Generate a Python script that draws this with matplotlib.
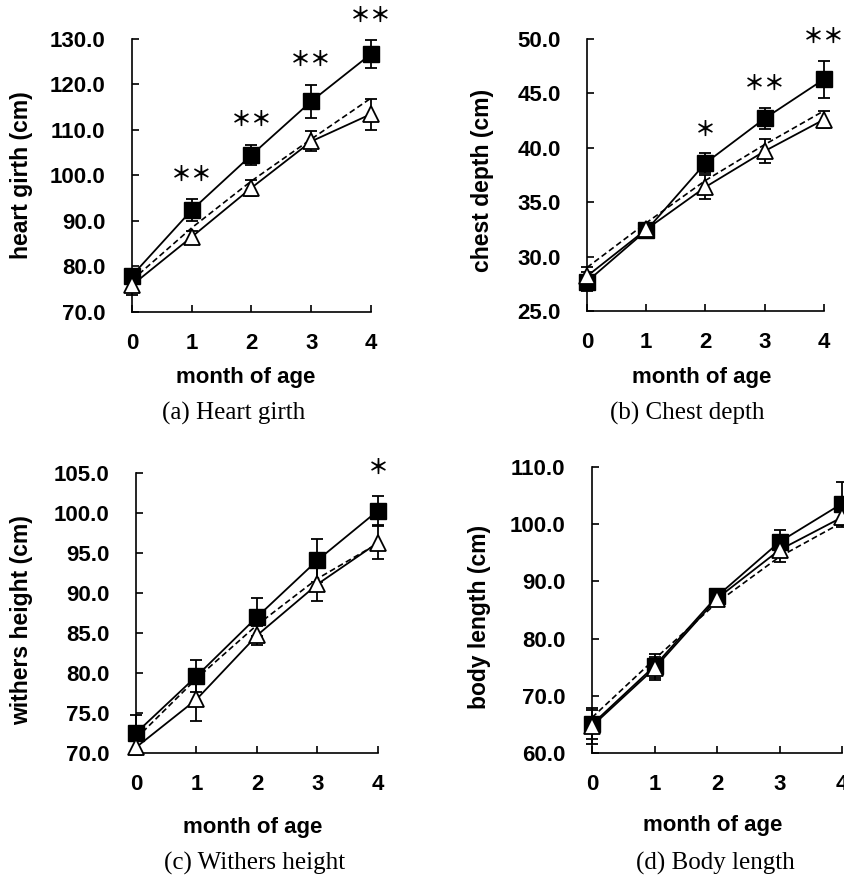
import numpy as np
import matplotlib
matplotlib.use("Agg")
import matplotlib.pyplot as plt

months = [0, 1, 2, 3, 4]

# (a) heart girth
hg_sq = [78.0, 92.4, 104.5, 116.3, 126.7]
hg_sq_err = [1.5, 2.4, 2.3, 3.6, 3.0]
hg_tri = [75.9, 86.5, 97.3, 107.5, 113.5]
hg_tri_err = [2.2, 1.2, 1.7, 2.2, 3.4]
hg_ref = [77.0, 88.5, 98.8, 108.0, 117.0]
hg_stars = ["", "＊＊", "＊＊", "＊＊", "＊＊"]

# (b) chest depth
cd_sq = [27.7, 32.4, 38.6, 42.7, 46.3]
cd_sq_err = [0.9, 0.4, 0.9, 1.0, 1.7]
cd_tri = [28.2, 32.5, 36.4, 39.7, 42.6]
cd_tri_err = [0.8, 0.4, 1.1, 1.1, 0.8]
cd_ref = [29.0, 33.1, 37.0, 40.3, 43.4]
cd_stars = ["", "", "＊", "＊＊", "＊＊"]

# (c) withers height
wh_sq = [72.5, 79.6, 87.0, 94.1, 100.3]
wh_sq_err = [2.2, 2.0, 2.4, 2.7, 1.8]
wh_tri = [70.7, 76.7, 84.7, 91.1, 96.3]
wh_tri_err = [1.0, 2.7, 1.2, 2.1, 2.1]
wh_ref = [71.8, 79.3, 86.0, 91.8, 96.2]
wh_stars = ["", "", "", "", "＊"]

# (d) body length
bl_sq = [65.0, 75.2, 87.4, 96.9, 103.6]
bl_sq_err = [2.6, 2.1, 0.8, 2.1, 3.8]
bl_tri = [64.7, 74.8, 87.0, 95.5, 101.2]
bl_tri_err = [3.2, 2.0, 0.8, 2.1, 1.7]
bl_ref = [66.2, 76.4, 86.3, 94.3, 100.3]
bl_stars = ["", "", "", "", ""]

W, H = 845, 877
fig = plt.figure(figsize=(W / 100, H / 100), dpi=100)


def px_axes(l, t, r, b):
    return fig.add_axes([l / W, 1 - b / H, (r - l) / W, (b - t) / H])


def ftext(x, y, s, **kw):
    fig.text(x / W, 1 - y / H, s, ha="center", va="center", **kw)


panels = [
    dict(box=(132, 39, 371, 312), sq=hg_sq, sqe=hg_sq_err, tri=hg_tri, trie=hg_tri_err,
         ref=hg_ref, stars=hg_stars, yt=np.arange(70, 131, 10), ylabel="heart girth (cm)",
         caption="(a) Heart girth", ylab_xy=(22, 175), xlab_xy=(246, 377), cap_xy=(234, 413),
         star_off=5.5),
    dict(box=(587, 39, 824, 311), sq=cd_sq, sqe=cd_sq_err, tri=cd_tri, trie=cd_tri_err,
         ref=cd_ref, stars=cd_stars, yt=np.arange(25, 51, 5), ylabel="chest depth (cm)",
         caption="(b) Chest depth", ylab_xy=(483, 180), xlab_xy=(702, 377), cap_xy=(687, 413),
         star_off=2.2),
    dict(box=(136, 473, 378, 753), sq=wh_sq, sqe=wh_sq_err, tri=wh_tri, trie=wh_tri_err,
         ref=wh_ref, stars=wh_stars, yt=np.arange(70, 106, 5), ylabel="withers height (cm)",
         caption="(c) Withers height", ylab_xy=(22, 620), xlab_xy=(253, 827), cap_xy=(255, 863),
         star_off=3.6),
    dict(box=(592, 467, 842, 753), sq=bl_sq, sqe=bl_sq_err, tri=bl_tri, trie=bl_tri_err,
         ref=bl_ref, stars=bl_stars, yt=np.arange(60, 111, 10), ylabel="body length (cm)",
         caption="(d) Body length", ylab_xy=(480, 617), xlab_xy=(713, 825), cap_xy=(715, 863),
         star_off=5.0),
]

for p in panels:
    ax = px_axes(*p["box"])
    ax.set_xlim(0, 4)
    ax.set_ylim(p["yt"][0], p["yt"][-1])

    ax.plot(months, p["ref"], color="black", lw=1.2, ls=(0, (3.5, 2)), zorder=2, clip_on=False)
    ax.errorbar(months, p["sq"], yerr=p["sqe"], color="black", lw=1.3, marker="s", ms=11,
                mfc="black", mec="black", capsize=4, capthick=1.3, elinewidth=1.3,
                zorder=3, clip_on=False)
    ax.errorbar(months, p["tri"], yerr=p["trie"], color="black", lw=1.3, marker="^", ms=11,
                mfc="white", mec="black", mew=1.3, capsize=4, capthick=1.3, elinewidth=1.3,
                zorder=4, clip_on=False)

    for x, y, e, s in zip(months, p["sq"], p["sqe"], p["stars"]):
        if s:
            ax.text(x, y + e + p["star_off"], s, ha="center", va="center", fontsize=15,
                    fontweight="bold", family=["Noto Sans CJK JP", "DejaVu Sans"],
                    clip_on=False)

    ax.spines["top"].set_visible(False)
    ax.spines["right"].set_visible(False)
    for sp in ("left", "bottom"):
        ax.spines[sp].set_linewidth(1.2)
    ax.set_xticks(months)
    ax.set_yticks(p["yt"])
    ax.set_yticklabels([f"{v:.1f}" for v in p["yt"]])
    ax.tick_params(axis="both", direction="in", length=5, width=1.2, labelsize=16)
    ax.tick_params(axis="y", pad=19)
    ax.tick_params(axis="x", pad=15)
    for lab in ax.get_xticklabels() + ax.get_yticklabels():
        lab.set_fontfamily("Liberation Sans")
        lab.set_fontweight("bold")

    ftext(*p["ylab_xy"], p["ylabel"], rotation=90, fontsize=16.5, fontweight="bold",
          family="Liberation Sans")
    ftext(*p["xlab_xy"], "month of age", fontsize=16, fontweight="bold",
          family="Liberation Sans")
    ftext(*p["cap_xy"], p["caption"], fontsize=18, family="Liberation Serif")

fig.savefig("out.png", dpi=100)
